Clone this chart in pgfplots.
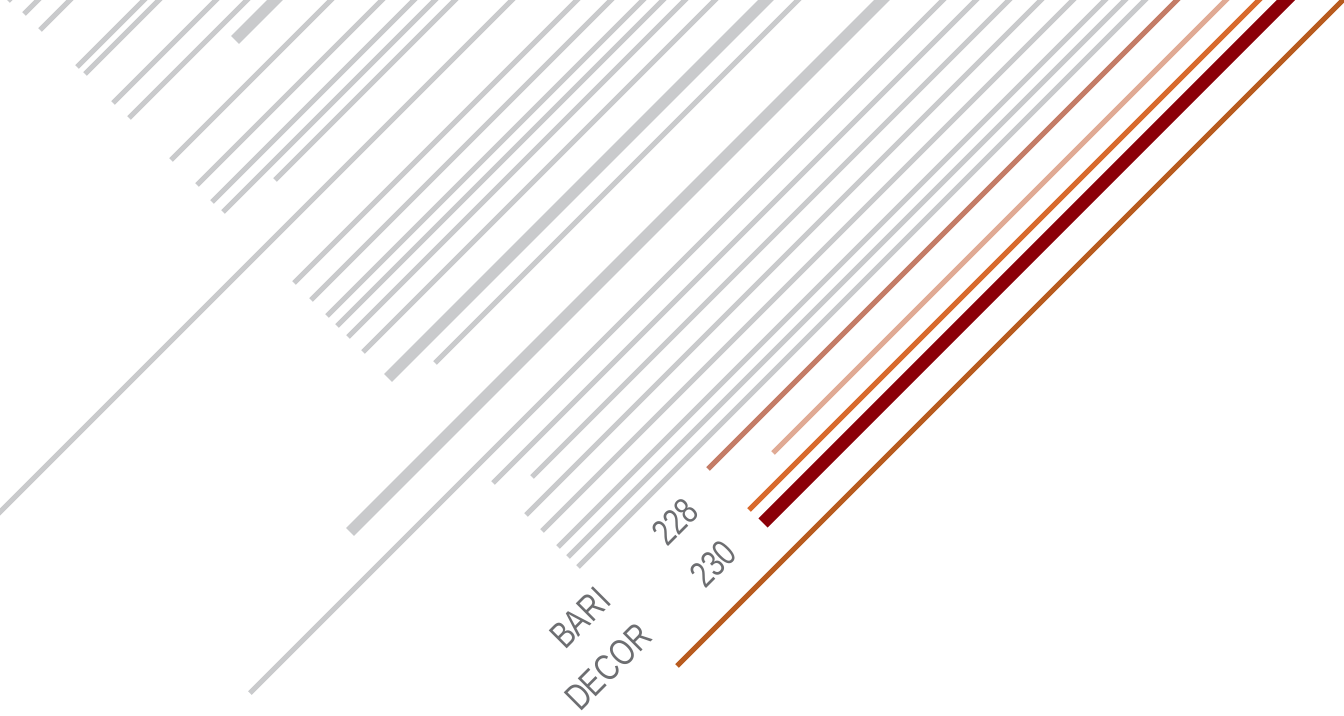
\documentclass[border=0pt]{standalone}
\usepackage{pgfplots}
\pgfplotsset{compat=1.18}
\usepackage{fontspec}
\newfontfamily\labfont[FakeStretch=0.78]{Liberation Sans}
\definecolor{lgray}{HTML}{C9CACC}
\definecolor{pinkbrown}{HTML}{C47C66}
\definecolor{salmon}{HTML}{E0AA94}
\definecolor{orng}{HTML}{D8692C}
\definecolor{dred}{HTML}{8B0008}
\definecolor{brorange}{HTML}{B85B1E}
\definecolor{txtgray}{HTML}{6D6E71}
% each line: start point (x, y) of its lower-left end; it runs at 45 degrees beyond the top edge
\begin{document}
\begin{tikzpicture}
\begin{axis}[width=134.4mm, height=71.5mm, scale only axis,
  xmin=0, xmax=1344, ymin=0, ymax=715, axis lines=none, clip=true]
% thin gray
\pgfplotsforeachungrouped \sx/\sy in {8/1,24/14,40/30,77/67,85/74,113/103,129/118,171/160,197/185,212/202,223/212,275/180,294/283,311/300,327/316,337/326,348/337,363/352,435/363,250/693,493/483,532/477,526/515,542/531,558/547,568/557,578/567,-20/532}{
  \edef\tmp{\noexpand\addplot[lgray, line width=0.5mm] coordinates {(\sx,{715-\sy}) ({\sx+\sy+30},745)};}
  \tmp
}
% thick gray
\pgfplotsforeachungrouped \sx/\sy in {235/40,388/378,350/532}{
  \edef\tmp{\noexpand\addplot[lgray, line width=1.1mm] coordinates {(\sx,{715-\sy}) ({\sx+\sy+30},745)};}
  \tmp
}
\addplot[pinkbrown, line width=0.5mm] coordinates {(708,246) (1207,745)};
\addplot[salmon, line width=0.5mm] coordinates {(773,262) (1256,745)};
\addplot[orng, line width=0.5mm] coordinates {(749,205) (1289,745)};
\addplot[dred, line width=1.3mm] coordinates {(763,192) (1316,745)};
\addplot[brorange, line width=0.5mm] coordinates {(677,49) (1373,745)};
\node[rotate=45, text=txtgray, inner sep=0pt, font=\labfont\fontsize{10.5}{11}\selectfont] at (axis cs:675,193) {228};
\node[rotate=45, text=txtgray, inner sep=0pt, font=\labfont\fontsize{10.5}{11}\selectfont] at (axis cs:713,151) {230};
\node[rotate=45, text=txtgray, inner sep=0pt, font=\labfont\fontsize{10.5}{11}\selectfont] at (axis cs:580,97) {BARI};
\node[rotate=45, text=txtgray, inner sep=0pt, font=\labfont\fontsize{10.5}{11}\selectfont] at (axis cs:608,48) {DECOR};
\end{axis}
\pgfresetboundingbox
\path[use as bounding box] (current axis.south west) rectangle (current axis.north east);
\end{tikzpicture}
\end{document}
